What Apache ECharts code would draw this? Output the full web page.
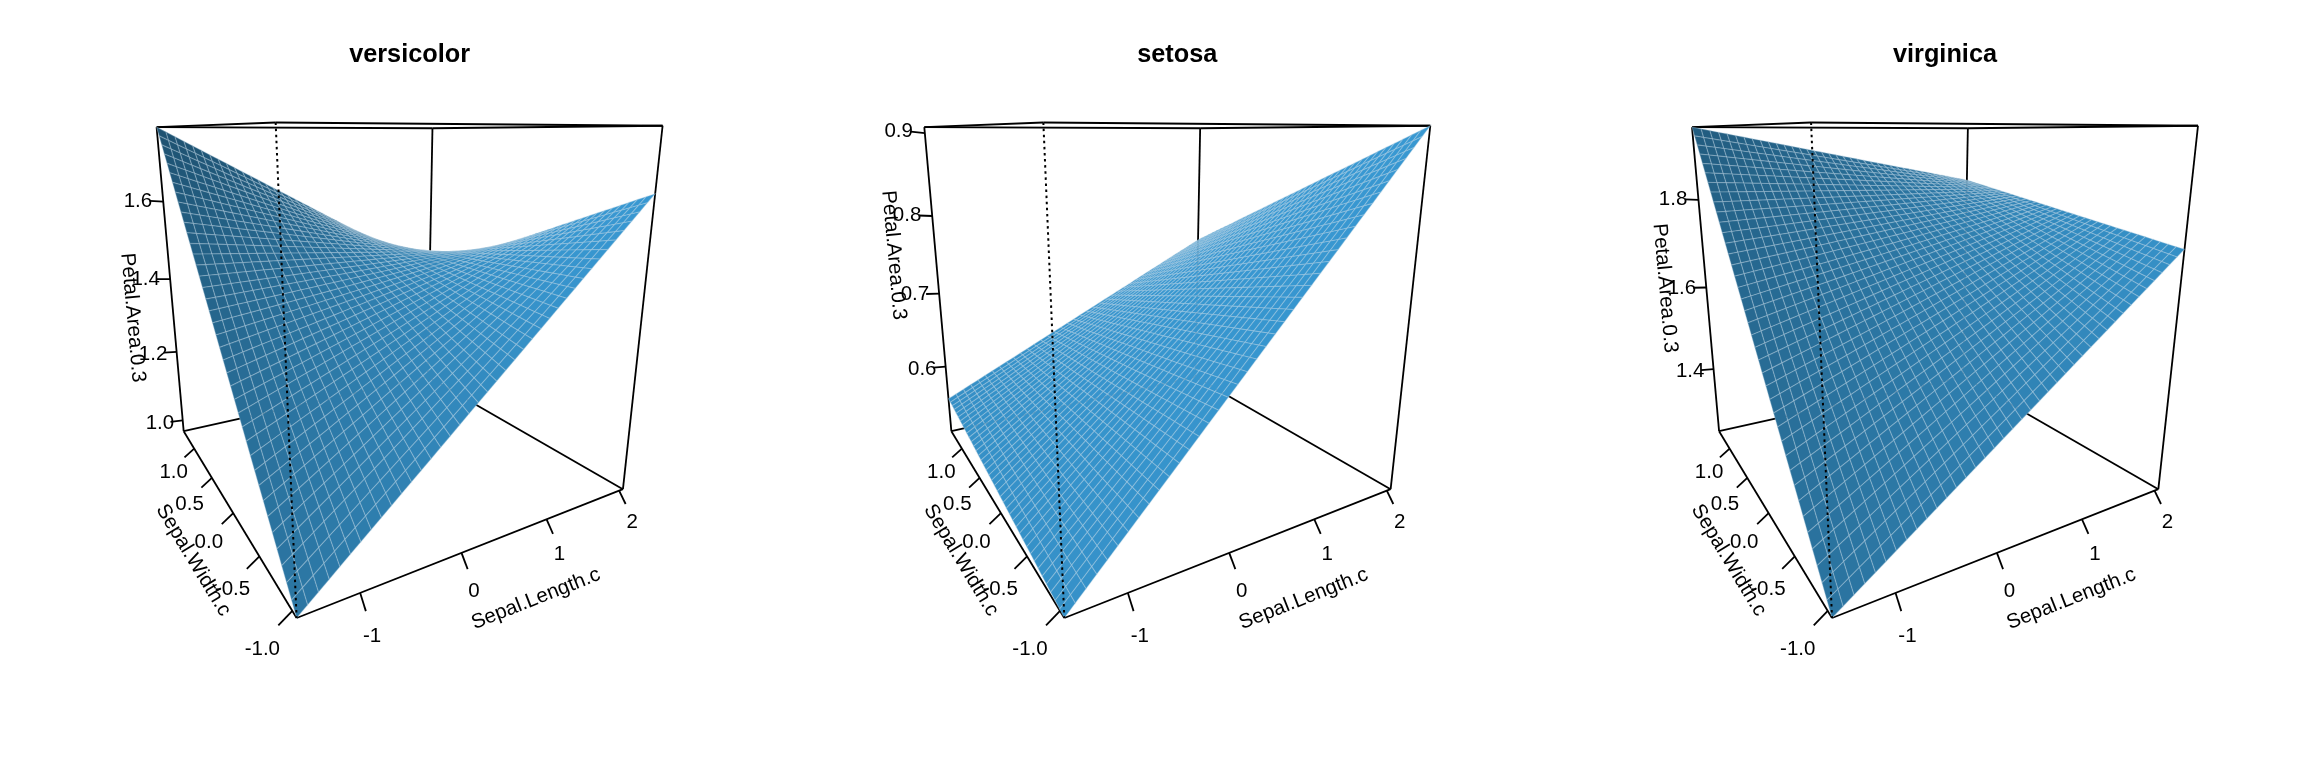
<!DOCTYPE html>
<html><head><meta charset="utf-8">
<script src="https://cdn.jsdelivr.net/npm/echarts@6/dist/echarts.min.js"></script>
<style>html,body{margin:0;padding:0;background:#fff}#c{width:2304px;height:768px}</style>
</head><body><div id="c"></div>
<script>
// ---- values ----
const panelTitles = ['versicolor', 'setosa', 'virginica'];
const xName = 'Sepal.Length.c', yName = 'Sepal.Width.c', zName = 'Petal.Area.0.3';
const xTicks = [-1, 0, 1, 2];
const yTicks = [-1.0, -0.5, 0.0, 0.5, 1.0];
const zTicksVersicolor = [1.0, 1.2, 1.4, 1.6];
const zTicksSetosa = [0.6, 0.7, 0.8, 0.9];
const zTicksVirginica = [1.4, 1.6, 1.8];
const xRange = [-1.543, 2.057];
const yRange = [-1.057, 1.343];
const zRangeVersicolor = [0.967, 1.781];
const zRangeSetosa = [0.506, 0.907];
const zRangeVirginica = [1.238, 1.956];
// Surface heights read at the patch corners: [[xmin/ymin, xmin/ymax], [xmax/ymin, xmax/ymax]].
// The xmax/ymax corner is hidden or only partly visible, so it is an estimate.
const zCornersVersicolor = [[0.967, 1.781], [1.647, 1.34]];
const zCornersSetosa = [[0.506, 0.554], [0.907, 0.737]];
const zCornersVirginica = [[1.238, 1.956], [1.736, 1.818]];
// Display mesh: each bilinear patch is tessellated into this many grid lines per side.
const meshLines = 40;

// ---- view ----
const theta = 30 * Math.PI / 180, phi = 15 * Math.PI / 180, eyeDist = 2 + Math.sqrt(3);
const ca = Math.cos(theta), sa = Math.sin(theta), cp = Math.cos(phi), sp = Math.sin(phi);
function depth(X, Y, Z) { const e = -(X * sa + Y * ca); return eyeDist - (e * cp + Z * sp); }
function project(X, Y, Z) {
  const e = -(X * sa + Y * ca), w = depth(X, Y, Z);
  return [(X * ca - Y * sa) / w, (Z * cp - e * sp) / w];
}
const light = [-0.6, 0.35, 0.72], baseRGB = [56, 152, 210], shadePower = 0.95;
const TEXT = '20.5px "Liberation Sans", Arial, sans-serif';

const panels = [
  { title: panelTitles[0], zTicks: zTicksVersicolor, zRange: zRangeVersicolor, corners: zCornersVersicolor },
  { title: panelTitles[1], zTicks: zTicksSetosa, zRange: zRangeSetosa, corners: zCornersSetosa },
  { title: panelTitles[2], zTicks: zTicksVirginica, zRange: zRangeVirginica, corners: zCornersVirginica }
];
const norm = (v, r) => 2 * (v - r[0]) / (r[1] - r[0]) - 1;

const uMin = project(-1, 1, 1)[0], uMax = project(1, -1, 1)[0];
const vMin = project(-1, -1, -1)[1], vMax = project(-1, -1, 1)[1];
const panelStep = 767.7, gridLeft = 156.6, gridTop = 122.5, gridW = 506, gridH = 495.5;

const grids = [], xAxes = [], yAxes = [], series = [];
const C = { L: [-1, 1], F: [-1, -1], R: [1, -1], B: [1, 1] };
const solidEdges = [
  ['L', -1, 'F', -1], ['F', -1, 'R', -1], ['L', -1, 'B', -1], ['B', -1, 'R', -1],
  ['L', 1, 'F', 1], ['F', 1, 'R', 1], ['L', 1, 'B', 1], ['B', 1, 'R', 1],
  ['L', -1, 'L', 1], ['R', -1, 'R', 1], ['B', -1, 'B', 1]
];

panels.forEach((p, k) => {
  grids.push({ left: gridLeft + k * panelStep, top: gridTop, width: gridW, height: gridH, show: false });
  xAxes.push({ gridIndex: k, type: 'value', min: uMin, max: uMax, show: false });
  yAxes.push({ gridIndex: k, type: 'value', min: vMin, max: vMax, show: false });

  const base = { type: 'custom', coordinateSystem: 'cartesian2d', xAxisIndex: k, yAxisIndex: k,
                 silent: true, animation: false, clip: false };

  series.push(Object.assign({}, base, {
    z: 1, data: solidEdges.map((e, i) => [i, 0]), encode: { x: 0, y: 1 },
    renderItem(params, api) {
      const e = solidEdges[api.value(0)];
      const a = api.coord(project(C[e[0]][0], C[e[0]][1], e[1]));
      const b = api.coord(project(C[e[2]][0], C[e[2]][1], e[3]));
      return { type: 'line', shape: { x1: a[0], y1: a[1], x2: b[0], y2: b[1] },
               style: { stroke: '#000', lineWidth: 1.8 } };
    }
  }));

  const n = meshLines - 1;
  const nz = p.corners.map(r => r.map(v => norm(v, p.zRange)));
  const surfZ = (a, b) => nz[0][0] * (1 - a) * (1 - b) + nz[0][1] * (1 - a) * b + nz[1][0] * a * (1 - b) + nz[1][1] * a * b;
  const pt = (i, j) => [2 * i / n - 1, 2 * j / n - 1, surfZ(i / n, j / n)];
  const cells = [];
  for (let i = 0; i < n; i++) for (let j = 0; j < n; j++) {
    const c = pt(i + .5, j + .5);
    cells.push({ i, j, d: depth(c[0], c[1], c[2]) });
  }
  cells.sort((a, b) => b.d - a.d);
  series.push(Object.assign({}, base, {
    z: 2, data: cells.map(c => [c.i, c.j]), encode: { x: 0, y: 1 },
    renderItem(params, api) {
      const i = api.value(0), j = api.value(1);
      const P = [pt(i, j), pt(i + 1, j), pt(i + 1, j + 1), pt(i, j + 1)];
      const a = [P[2][0] - P[0][0], P[2][1] - P[0][1], P[2][2] - P[0][2]];
      const b = [P[3][0] - P[1][0], P[3][1] - P[1][1], P[3][2] - P[1][2]];
      let N = [a[1] * b[2] - a[2] * b[1], a[2] * b[0] - a[0] * b[2], a[0] * b[1] - a[1] * b[0]];
      const L = Math.hypot(N[0], N[1], N[2]); N = N.map(v => v / L);
      const f = Math.pow((1 + N[0] * light[0] + N[1] * light[1] + N[2] * light[2]) / 2, shadePower);
      const rgb = baseRGB.map(v => Math.round(v * f));
      return { type: 'polygon', shape: { points: P.map(q => api.coord(project(q[0], q[1], q[2]))) },
               style: { fill: 'rgb(' + rgb.join(',') + ')', stroke: 'rgba(190,212,228,0.30)', lineWidth: 1.2 } };
    }
  }));

  const axisOffsets = {
    x: { tick: [0, -0.052, -0.057], label: [0, -0.107, -0.145], name: [0, -0.236, -0.209] },
    y: { tick: [-0.065, 0, -0.045], label: [-0.14, 0, -0.13], name: [-0.2275, 0, -0.2075] },
    z: { tick: [-0.08, 0, 0.008], label: [-0.148, 0, 0.012], name: [-0.248, 0, 0.025] }
  };
  const items = [];
  const addAxis = (kind, ticks, at, labelOf, name) => {
    ticks.forEach(t => items.push({ kind: 'tick', base: at(t), axis: kind, label: labelOf(t) }));
    const mid = (ticks[0] + ticks[ticks.length - 1]) / 2;
    items.push({ kind: 'name', base: at(mid), axis: kind, label: name });
  };
  addAxis('x', xTicks, t => [norm(t, xRange), -1, -1], t => String(t), xName);
  addAxis('y', yTicks, t => [-1, norm(t, yRange), -1], t => t.toFixed(1), yName);
  addAxis('z', p.zTicks, t => [-1, 1, norm(t, p.zRange)], t => t.toFixed(1), zName);
  const axisEnds = { x: [[-1, -1, -1], [1, -1, -1]], y: [[-1, 1, -1], [-1, -1, -1]], z: [[-1, 1, 1], [-1, 1, -1]] };
  const shifted = (b, o) => project(b[0] + o[0], b[1] + o[1], b[2] + o[2]);

  series.push(Object.assign({}, base, {
    z: 3, data: items.map((it, i) => [i, 0]).concat([[-1, 0], [-2, 0]]), encode: { x: 0, y: 1 },
    renderItem(params, api) {
      const id = api.value(0);
      if (id === -1) {
        const a = api.coord(project(-1, -1, 1)), b = api.coord(project(-1, -1, -1));
        return { type: 'line', shape: { x1: a[0], y1: a[1], x2: b[0], y2: b[1] },
                 style: { stroke: '#000', lineWidth: 2, lineDash: [2.5, 3.6] } };
      }
      if (id === -2) {
        const left = api.coord([uMin, 0])[0], right = api.coord([uMax, 0])[0];
        return { type: 'text', x: (left + right) / 2, y: 55,
                 style: { text: p.title, align: 'center', verticalAlign: 'middle', fill: '#000',
                          font: 'bold 25.3px "Liberation Sans", Arial, sans-serif' } };
      }
      const it = items[id], cfg = axisOffsets[it.axis];
      if (it.kind === 'tick') {
        const a = api.coord(project(it.base[0], it.base[1], it.base[2]));
        const b = api.coord(shifted(it.base, cfg.tick));
        const l = api.coord(shifted(it.base, cfg.label));
        return { type: 'group', children: [
          { type: 'line', shape: { x1: a[0], y1: a[1], x2: b[0], y2: b[1] }, style: { stroke: '#000', lineWidth: 1.8 } },
          { type: 'text', x: l[0], y: l[1], style: { text: it.label, align: 'center', verticalAlign: 'middle', fill: '#000', font: TEXT } }
        ] };
      }
      const l = api.coord(shifted(it.base, cfg.name));
      const ends = axisEnds[it.axis];
      const a = api.coord(project.apply(null, ends[0])), b = api.coord(project.apply(null, ends[1]));
      return { type: 'text', x: l[0], y: l[1], rotation: -Math.atan2(b[1] - a[1], b[0] - a[0]),
               style: { text: it.label, align: 'center', verticalAlign: 'middle', fill: '#000', font: TEXT } };
    }
  }));
});

const chart = echarts.init(document.getElementById('c'), null, { renderer: 'canvas' });
chart.setOption({ animation: false, backgroundColor: '#fff', grid: grids, xAxis: xAxes, yAxis: yAxes, series });
</script></body></html>
